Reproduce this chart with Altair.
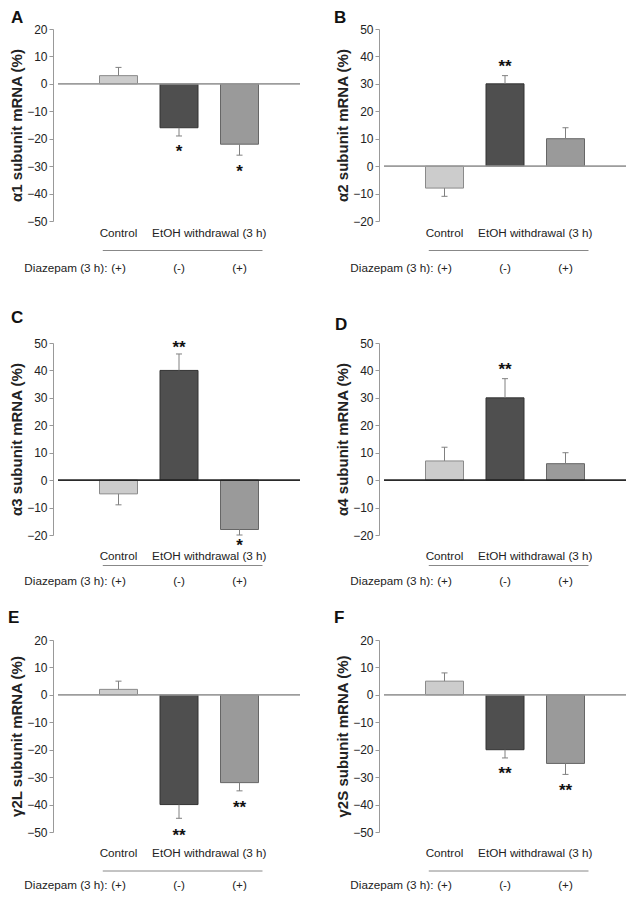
import altair as alt
import pandas as pd

FONT = "Liberation Sans"

groups = ["Control", "EtOH (-)", "EtOH (+)"]
positions = [1, 2, 3]
fills = ["#cccccc", "#4f4f4f", "#9a9a9a"]
strokes = ["#8a8a8a", "#333333", "#666666"]

panel_keys = ["A", "B", "C", "D", "E", "F"]
y_titles = {
    "A": "α1 subunit mRNA (%)",
    "B": "α2 subunit mRNA (%)",
    "C": "α3 subunit mRNA (%)",
    "D": "α4 subunit mRNA (%)",
    "E": "γ2L subunit mRNA (%)",
    "F": "γ2S subunit mRNA (%)",
}
domains = {
    "A": [-50, 20], "B": [-20, 50], "C": [-20, 50],
    "D": [-20, 50], "E": [-50, 20], "F": [-50, 20],
}
means = {
    "A": [3, -16, -22],
    "B": [-8, 30, 10],
    "C": [-5, 40, -18],
    "D": [7, 30, 6],
    "E": [2, -40, -32],
    "F": [5, -20, -25],
}
errors = {
    "A": [3, 3, 4],
    "B": [3, 3, 4],
    "C": [4, 6, 2],
    "D": [5, 7, 4],
    "E": [3, 5, 3],
    "F": [3, 3, 4],
}
stars = {
    "A": ["", "*", "*"],
    "B": ["", "**", ""],
    "C": ["", "**", "*"],
    "D": ["", "**", ""],
    "E": ["", "**", "**"],
    "F": ["", "**", "**"],
}
star_y = {
    "A": [0, -23.4, -30.6],
    "B": [0, 37.7, 0],
    "C": [0, 49.6, -22.7],
    "D": [0, 41.7, 0],
    "E": [0, -50, -39.7],
    "F": [0, -27.5, -33.6],
}
zero_colors = {"A": "#999999", "B": "#999999", "C": "#222222",
               "D": "#222222", "E": "#999999", "F": "#999999"}

label_texts = ["Control", "EtOH withdrawal (3 h)", "(+)", "(-)", "(+)"]
label_x = [1, 2.5, 1, 2, 3]
label_row = ["cat", "cat", "dz", "dz", "dz"]
sep_span = [0.74, 3.38]

W, H = 252, 192
letter_off = {"A": (-42, -11.5), "B": (-45, -11), "C": (-42, -25),
              "D": (-44, -18), "E": (-45, -22), "F": (-45, -22)}
row_off = {"A": (11.5, 29.5, 46.5), "B": (11.5, 29.5, 46.5),
           "C": (20.5, 30.5, 45.5), "D": (20.5, 30.5, 45.5),
           "E": (21, 39, 53), "F": (21, 39, 53)}


def panel(key):
    m = means[key]
    e = errors[key]
    ends = [v + (err if v >= 0 else -err) for v, err in zip(m, e)]
    df = pd.DataFrame({
        "group": groups, "pos": positions, "mean": m, "end": ends,
        "star": stars[key], "sy": star_y[key],
    })
    df["xlo"] = df["pos"] - 0.05
    df["xhi"] = df["pos"] + 0.05
    lo, hi = domains[key]
    xs = alt.Scale(domain=[0, 4], nice=False, zero=False)
    ys = alt.Scale(domain=[lo, hi], nice=False, zero=False)
    X = alt.X("pos:Q", scale=xs, axis=None)
    yaxis = alt.Axis(values=list(range(lo, hi + 1, 10)), tickCount=20,
                     title=y_titles[key],
                     grid=False, domainColor="#999999", tickColor="#999999",
                     tickSize=4, labelFont=FONT, labelFontSize=12,
                     labelColor="#222222", labelPadding=2, labelOverlap=False,
                     labelFlush=False, labelBound=False,
                     titleFont=FONT, titleFontSize=15, titleFontWeight="bold",
                     titleColor="#222222", titlePadding=2)
    base = alt.Chart(df)
    bars = base.mark_bar(size=38, strokeWidth=1).encode(
        x=X,
        y=alt.Y("mean:Q", scale=ys, axis=yaxis),
        y2=alt.datum(0),
        fill=alt.Fill("group:N", scale=alt.Scale(domain=groups, range=fills), legend=None),
        stroke=alt.Stroke("group:N", scale=alt.Scale(domain=groups, range=strokes), legend=None),
    )
    zero = base.mark_rule(color=zero_colors[key], strokeWidth=1).encode(
        x=alt.datum(0, scale=xs), x2=alt.datum(4), y=alt.datum(0, scale=ys)
    )
    err_rule = base.mark_rule(color="#808080", strokeWidth=1).encode(
        x="pos:Q", y="mean:Q", y2="end:Q"
    )
    caps = base.mark_rule(color="#808080", strokeWidth=1).encode(
        x="xlo:Q", x2="xhi:Q", y="end:Q"
    )
    star_txt = base.mark_text(font=FONT, fontSize=17, fontWeight="bold",
                              color="#111111", baseline="alphabetic", dy=9).encode(
        x="pos:Q", y="sy:Q", text="star:N"
    )
    c_off, s_off, d_off = row_off[key]
    lab = pd.DataFrame({"t": label_texts, "x": label_x, "row": label_row})
    cat = alt.Chart(lab[lab.row == "cat"]).mark_text(
        font=FONT, fontSize=11.7, color="#222222", baseline="middle").encode(
        x="x:Q", y=alt.value(H + c_off), text="t:N")
    dz = alt.Chart(lab[lab.row == "dz"]).mark_text(
        font=FONT, fontSize=11.7, color="#222222", baseline="middle").encode(
        x="x:Q", y=alt.value(H + d_off), text="t:N")
    dzlab = alt.Chart(pd.DataFrame({"t": ["Diazepam (3 h):"], "x": [1]})).mark_text(
        font=FONT, fontSize=11.7, color="#222222", baseline="middle",
        align="right", dx=-11).encode(
        x="x:Q", y=alt.value(H + d_off), text="t:N")
    sep = alt.Chart(pd.DataFrame({"a": [sep_span[0]], "b": [sep_span[1]]})).mark_rule(
        color="#888888", strokeWidth=1).encode(
        x="a:Q", x2="b:Q", y=alt.value(H + s_off))
    lx, ly = letter_off[key]
    letter = alt.Chart(pd.DataFrame({"l": [key]})).mark_text(
        font=FONT, fontSize=17, fontWeight="bold", color="#111111",
        align="left", baseline="middle").encode(
        x=alt.value(lx), y=alt.value(ly), text="l:N")
    return alt.layer(bars, zero, err_rule, caps, star_txt, cat, dz, dzlab, sep,
                     letter).properties(width=W, height=H)


pA, pB, pC, pD, pE, pF = [panel(k) for k in panel_keys]
row1 = alt.hconcat(pA, pB, spacing=74, bounds="flush")
row2 = alt.hconcat(pC, pD, spacing=74, bounds="flush")
row3 = alt.hconcat(pE, pF, spacing=74, bounds="flush")
# nested rows count as zero height with flush bounds: spacing = top-to-top distance
lower = alt.vconcat(row2, row3, spacing=297, bounds="flush")
chart = alt.vconcat(row1, lower, spacing=314, bounds="flush").properties(
    padding={"left": 0, "top": 0, "right": 0, "bottom": 0},
    background="white",
).configure_view(strokeWidth=0, stroke="transparent")

chart.save("out.html", embed_options={"renderer": "svg", "actions": False})
